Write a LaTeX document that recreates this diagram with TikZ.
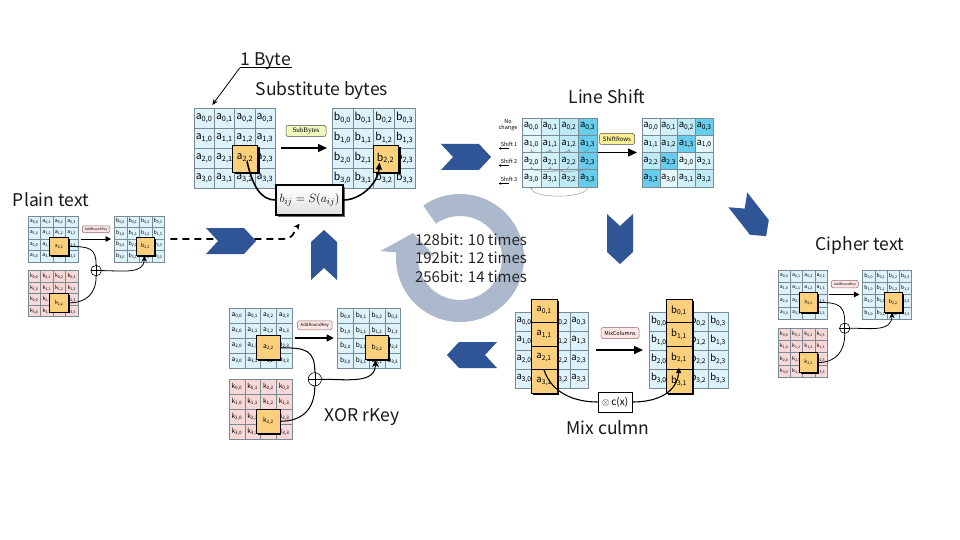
\documentclass[tikz,border=0pt]{standalone}
\usepackage{fontspec}
\setmainfont{Noto Sans CJK JP}
\newfontfamily\tagserif{Liberation Serif}
\usetikzlibrary{arrows.meta,shadows,calc}

\definecolor{cellblue}{RGB}{221,242,250}
\definecolor{cellpink}{RGB}{249,216,216}
\definecolor{gridline}{RGB}{120,138,148}
\definecolor{hiorange}{RGB}{250,208,125}
\definecolor{chevblue}{RGB}{47,85,151}
\definecolor{loopgrey}{RGB}{172,184,204}
\definecolor{tagpink}{RGB}{252,230,230}
\definecolor{tagedge}{RGB}{150,100,100}
\definecolor{taglime}{RGB}{236,250,190}
\definecolor{tagyellow}{RGB}{252,240,150}
\definecolor{shiftcol0}{RGB}{228,247,252}
\definecolor{shiftcol1}{RGB}{208,240,250}
\definecolor{shiftcol2}{RGB}{190,233,247}
\definecolor{shiftcol3}{RGB}{104,204,236}

\tikzset{
  bytecell/.style={draw=gridline, line width=0.5pt, inner sep=0pt, outer sep=0pt},
  hibox/.style={draw=black, line width=0.8pt, fill=hiorange, inner sep=0pt,
    drop shadow={shadow xshift=#1, shadow yshift=-#1, fill=black, opacity=1}},
  hibox/.default=1.6pt,
  opbox/.style={rounded corners=2pt, inner sep=0pt, line width=0.5pt},
  stepflow/.style={line width=1.5pt, -{Triangle[length=9pt,width=8pt]}},
  xline/.style={line width=1.6pt},
  shiftarc/.style={draw=black!45, line width=0.4pt, -{Stealth[length=2pt,width=2pt]}},
  heading/.style={font=\fontsize{17.5}{18}\selectfont, inner sep=1pt, text=black!90},
  chevron/.pic={\fill[chevblue] (-25,-13) -- (13,-13) -- (25,0) -- (13,13) -- (-25,13) -- (-13,0) -- cycle;},
}

% 4x4 state: name, left, top, cell width, cell height, letter, fill, covered cells
\newcommand{\bytegrid}[8]{%
  \foreach \r in {0,...,3}{%
    \foreach \c in {0,...,3}{%
      \pgfmathtruncatemacro{\hid}{#8}%
      \node[bytecell, fill=#7, minimum width=#4pt, minimum height=#5pt]
        (#1-\r-\c) at ({#2+(\c+0.5)*#4},{#3+(\r+0.5)*#5}) {\ifnum\hid=0 #6\textsubscript{\r,\c}\fi};
    }}}

% AddRoundKey block: name, left, top, cell width, cell height
\newcommand{\keyblock}[5]{%
  \pgfmathsetmacro{\kbx}{#2+6.9*#4}%
  \pgfmathsetmacro{\kky}{#3+4.75*#5}%
  \pgfmathsetmacro{\kfs}{0.42*#4}%
  \pgfmathsetmacro{\ktfs}{0.27*#4}%
  \pgfmathsetmacro{\klw}{0.065*#4}%
  \pgfmathsetmacro{\khl}{0.45*#4}%
  \begin{scope}[font=\fontsize{\kfs}{\kfs}\selectfont]
    \bytegrid{#1a}{#2}{#3}{#4}{#5}{a}{cellblue}{(\r==2)&&(\c==2)}
    \bytegrid{#1b}{\kbx}{#3}{#4}{#5}{b}{cellblue}{(\r==2)&&(\c==2)}
    \bytegrid{#1k}{#2}{\kky}{#4}{#5}{k}{cellpink}{(\r==2)&&(\c==2)}
    \node[hibox=1.3pt, minimum width=1.5*#4pt, minimum height=1.6*#5pt] (#1ha) at ([yshift=-0.15*#5pt]#1a-2-2) {a\textsubscript{2,2}};
    \node[hibox=1.3pt, minimum width=1.5*#4pt, minimum height=1.6*#5pt] (#1hb) at ([yshift=-0.15*#5pt]#1b-2-2) {b\textsubscript{2,2}};
    \node[hibox=1.3pt, minimum width=1.5*#4pt, minimum height=1.6*#5pt] (#1hk) at ([yshift=-0.3*#5pt]#1k-2-2) {k\textsubscript{2,2}};
  \end{scope}
  \node[opbox, draw=tagedge, fill=tagpink, minimum width=2.2*#4pt, minimum height=0.6*#5pt,
    font=\fontsize{\ktfs}{\ktfs}\selectfont] (#1tag) at ({#2+5.45*#4},{#3+1.15*#5}) {AddRoundKey};
  \draw[line width=\klw pt, -{Triangle[length=\khl pt, width=\khl pt]}]
    ([xshift=0.2*#4pt]#1a-2-3.north east) -- ([xshift=-0.25*#4pt]#1b-2-0.north west);
  \node[circle, draw, line width=0.6pt, minimum size=0.84*#4pt, inner sep=0pt] (#1xor) at ({#2+5.45*#4},\kky) {};
  \draw[line width=0.6pt] (#1xor.north) -- (#1xor.south) (#1xor.west) -- (#1xor.east);
  \draw[line width=\klw pt] (#1ha.east) .. controls +(1.6*#4,0) and +(0,-1.5*#5) .. (#1xor.north);
  \draw[line width=\klw pt] (#1hk.east) .. controls +(1.4*#4,0) and +(0,1.5*#5) .. (#1xor.south);
  \draw[line width=\klw pt, -{Stealth[length=\khl pt, width=\khl pt]}]
    (#1xor.east) .. controls +(1.6*#4,0) and +(0,1.6*#5) .. ([xshift=-0.1*#4pt]#1hb.south);
}

\begin{document}
\begin{tikzpicture}[x=1pt,y=-1pt]
\path[fill=white, use as bounding box] (0,0) rectangle (960,540);

%Shape: round loop arrow
\coordinate (loopc) at (460,258);
\fill[loopgrey] ($(loopc)+(235:64)$) arc[start angle=235, end angle=545, radius=64]
  -- ($(loopc)+(185:80)$) -- ($(loopc)+(208:53)$) -- ($(loopc)+(185:26)$)
  -- ($(loopc)+(185:42)$) arc[start angle=185, end angle=-125, radius=42] -- cycle;
% Text Node
\node[font=\fontsize{15}{18.5}\selectfont, align=center, text=black!85] (rounds) at (471,258)
  {128bit: 10 times\\192bit: 12 times\\256bit: 14 times};

%Shape: Substitute bytes
\node[heading] (onebyte) at (266,61) {1 Byte};
\node[heading] (subttl) at (322,91) {Substitute bytes};
\begin{scope}[font=\fontsize{10.5}{10.5}\selectfont]
  \bytegrid{sa}{194}{108}{20.25}{20}{a}{cellblue}{(\r==2)&&(\c==2)}
  \bytegrid{sb}{332}{108}{20.75}{20}{b}{cellblue}{(\r==2)&&(\c==2)}
  \node[hibox=2.5pt, minimum width=25pt, minimum height=27pt] (sha) at (245,158.5) {a\textsubscript{2,2}};
  \node[hibox=2.5pt, minimum width=25pt, minimum height=27pt] (shb) at (385.5,158.5) {b\textsubscript{2,2}};
\end{scope}
\draw[line width=1.2pt] ([yshift=-2.5pt]onebyte.base west) -- ([yshift=-2.5pt]onebyte.base east);
\draw[line width=0.8pt, -{Stealth[length=6pt,width=5pt]}] ([yshift=-2.5pt]onebyte.base west) -- ([xshift=-2pt,yshift=3pt]sa-0-0.north east);
\node[opbox, draw=black!70, fill=taglime, minimum width=40pt, minimum height=11pt,
  font=\tagserif\fontsize{7}{7}\selectfont] (subtag) at (306,131) {SubBytes};
\draw[stepflow] ([xshift=6pt]sa-2-3.north east) -- ([xshift=-5pt]sb-2-0.north west);
\node[draw, line width=1.3pt, top color=white, bottom color=black!12, minimum width=67pt, minimum height=30pt,
  inner sep=1pt, font=\fontsize{13}{13}\selectfont, drop shadow={shadow xshift=2pt, shadow yshift=-2pt, fill=black!60, opacity=1}]
  (sfun) at (309.5,200) {$b_{ij} = S(a_{ij})$};
\draw[xline] ([xshift=2pt,yshift=-3pt]sha.center) .. controls +(6,26) and +(-14,0) .. (sfun.west);
\draw[xline, -{Triangle[length=7pt,width=6pt]}] (sfun.east) .. controls +(16,0) and +(-2,22) .. ([xshift=-6pt,yshift=-4pt]shb.center);

%Shape: Line Shift
\node[heading] (lsttl) at (607,97) {Line Shift};
\begin{scope}[font=\fontsize{9.5}{9.5}\selectfont]
  \foreach \r in {0,...,3}{\foreach \c in {0,...,3}{
    \node[bytecell, fill=shiftcol\c, minimum width=18.75pt, minimum height=17.25pt]
      (la-\r-\c) at ({522+(\c+0.5)*18.75},{118+(\r+0.5)*17.25}) {a\textsubscript{\r,\c}};
  }}
  \foreach \r in {0,...,3}{\foreach \c in {0,...,3}{
    \pgfmathtruncatemacro{\src}{mod(\c+\r,4)}
    \node[bytecell, fill=shiftcol\src, minimum width=17.75pt, minimum height=17.25pt]
      (lb-\r-\c) at ({642+(\c+0.5)*17.75},{118+(\r+0.5)*17.25}) {a\textsubscript{\r,\src}};
  }}
\end{scope}
\begin{scope}[font=\fontsize{5.5}{6}\selectfont]
  \node[align=center, inner sep=0pt] (nochg) at (508,125) {No\\change};
  \foreach \r/\y in {1/144,2/161,3/179}{
    \node[inner sep=0pt] (shl-\r) at (509,\y) {Shift \r};
    \draw[line width=0.5pt, -{Stealth[length=2.5pt,width=2.5pt]}] ([yshift=-2pt]shl-\r.south) -- ([xshift=-2pt,yshift=-2pt]shl-\r.south west);
  }
\end{scope}
\foreach \c/\p in {1/0,2/1,3/2}{
  \draw[shiftarc] ([yshift=3pt]la-1-\c.south) .. controls +(0,4) and +(0,4) .. ([yshift=3pt]la-1-\p.south);
}
\foreach \c/\p in {2/0,3/1}{
  \draw[shiftarc] ([yshift=3pt]la-2-\c.south) .. controls +(0,6) and +(0,6) .. ([yshift=3pt]la-2-\p.south);
}
\draw[shiftarc] (la-3-3.south) .. controls +(0,12) and +(0,12) .. (la-3-0.south);
\node[opbox, draw=black!70, fill=tagyellow, minimum width=35pt, minimum height=11pt,
  font=\fontsize{6}{6}\selectfont] (shifttag) at (617,139) {ShiftRows};
\draw[stepflow] ([xshift=1pt]la-2-3.north east) -- ([xshift=-5pt]lb-2-0.north west);

%Shape: Mix culmn
\node[heading] (mixttl) at (608,428) {Mix culmn};
\begin{scope}[font=\fontsize{9.5}{9.5}\selectfont]
  \bytegrid{ma}{515}{312}{18.25}{19}{a}{cellblue}{\c==1}
  \bytegrid{mb}{649}{312}{19.75}{19}{b}{cellblue}{\c==1}
  \foreach \r in {0,...,3}{
    \node[hibox=2pt, minimum width=26pt, minimum height=23.5pt] (mha-\r) at (544,{299+(\r+0.5)*23.5}) {a\textsubscript{\r,1}};
    \node[hibox=2pt, minimum width=26pt, minimum height=23.5pt] (mhb-\r) at (679,{299+(\r+0.5)*23.5}) {b\textsubscript{\r,1}};
  }
\end{scope}
\node[opbox, draw=tagedge, fill=tagpink, minimum width=38pt, minimum height=11pt,
  font=\fontsize{5.5}{5.5}\selectfont] (mixtag) at (620,333) {MixColumns};
\draw[stepflow] ([xshift=8pt]ma-2-3.north east) -- ([xshift=-6pt]mb-2-0.north west);
\node[draw, line width=0.8pt, fill=white, minimum width=34pt, minimum height=20pt, inner sep=1pt,
  font=\fontsize{10}{10}\selectfont] (mfun) at (615,402) {$\otimes$\,c(x)};
\draw[line width=1.1pt] (mha-2.south) .. controls +(8,24) and +(-22,0) .. (mfun.west);
\draw[line width=1.1pt, -{Triangle[length=5pt,width=5pt]}] (mfun.east) .. controls +(26,0) and +(-2,24) .. ([yshift=2pt]mhb-2.south);

%Shape: XOR rKey
\node[heading] (xorttl) at (362,417) {XOR rKey};
\keyblock{x}{229}{308}{15.75}{15}

%Shape: Plain text
\node[heading] (plainttl) at (51,200) {Plain text};
\keyblock{p}{28}{216}{12.5}{11.5}

%Shape: Cipher text
\node[heading] (cipherttl) at (860,246) {Cipher text};
\keyblock{c}{778}{270}{12.25}{12.25}

%Straight Lines: plain text into round
\draw[dash pattern=on 7pt off 5pt, line width=1.8pt, -{Stealth[length=6pt,width=6pt]}]
  ([xshift=6pt]pb-2-3.north east) -- ++(112,0) .. controls +(12,0) and +(-6,8) .. ([xshift=-10pt,yshift=-8pt]sfun.south);

%Shape: chevrons
\pic at (231,241) {chevron};
\pic at (466,157) {chevron};
\pic[rotate=-90] at (620,239) {chevron};
\pic[rotate=180] at (472,355) {chevron};
\pic[rotate=90] at (324,255) {chevron};
\pic[rotate=-52, scale=0.92] at (752,218) {chevron};

\end{tikzpicture}
\end{document}
